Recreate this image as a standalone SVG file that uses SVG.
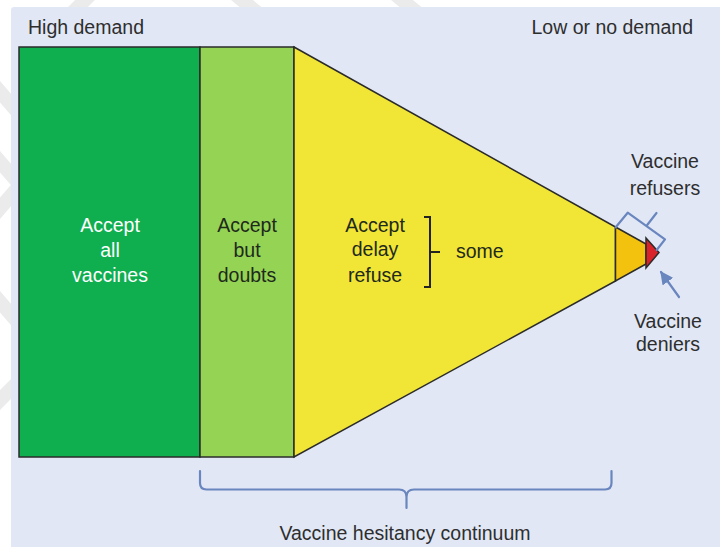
<svg xmlns="http://www.w3.org/2000/svg" width="720" height="547" viewBox="0 0 720 547">
  <defs>
    <style>
      .lbl { font-family: "Liberation Sans", Arial, sans-serif; font-size: 19.5px; fill: #2e2e2e; }
      .wht { fill: #ffffff; }
      .dk { fill: #1e2a1c; }
      .shape { stroke: #2b2b2b; stroke-width: 1.5; stroke-linejoin: miter; }
      .blue { fill: none; stroke: #6a86bf; stroke-width: 2.2; stroke-linecap: round; stroke-linejoin: round; }
      .blk { fill: none; stroke: #222222; stroke-width: 2; }
      .wm { stroke: #ebebeb; stroke-width: 14; fill: none; }
    </style>
    <marker id="arrow" viewBox="0 0 10 10" refX="9" refY="5" markerWidth="6" markerHeight="6" orient="auto" markerUnits="strokeWidth">
      <path d="M0,0 L10,5 L0,10 z" fill="#6a86bf"/>
    </marker>
  </defs>

  <rect x="0" y="0" width="720" height="547" fill="#ffffff"/>
  <g id="watermark">
    <path class="wm" d="M-10,80 L20,115 M-10,150 L20,185 M20,185 L-10,220 M-10,290 L20,325 M20,380 L-10,410 M230,-10 L260,15 M390,-10 L420,15 M95,-10 L70,15"/>
  </g>
  <rect id="panel" x="11" y="7" width="715" height="546" rx="3" fill="#e1e7f5"/>

  <g id="accept-all">
    <rect class="shape" x="19" y="47" width="181" height="410" fill="#0faf4f"/>
    <text class="lbl wht" text-anchor="middle"><tspan x="110" y="232">Accept</tspan><tspan x="110" y="256.5">all</tspan><tspan x="110" y="281.5">vaccines</tspan></text>
  </g>

  <g id="accept-doubts">
    <rect class="shape" x="200" y="47" width="94" height="410" fill="#95d354"/>
    <text class="lbl dk" text-anchor="middle"><tspan x="247" y="232">Accept</tspan><tspan x="247" y="256.5">but</tspan><tspan x="247" y="281.5">doubts</tspan></text>
  </g>

  <g id="accept-delay-refuse">
    <polygon class="shape" points="294,47 615.5,227 615.5,281 294,457" fill="#f1e535"/>
    <text class="lbl dk" text-anchor="middle"><tspan x="375" y="232">Accept</tspan><tspan x="375" y="256">delay</tspan><tspan x="375" y="281.5">refuse</tspan></text>
    <path class="blk" d="M424,217 H430 V287 H424 M430,252 H440"/>
    <text class="lbl dk" x="456" y="258">some</text>
  </g>

  <g id="refusers">
    <polygon class="shape" points="615.5,227 646,244 646,264 615.5,281" fill="#f3c20f"/>
  </g>

  <g id="deniers">
    <polygon class="shape" points="646,238 659,252.5 646,268" fill="#d8232a"/>
  </g>

  <g id="labels">
    <text class="lbl" x="28" y="34">High demand</text>
    <text class="lbl" x="693" y="34" text-anchor="end">Low or no demand</text>
    <text class="lbl" text-anchor="middle"><tspan x="665" y="168">Vaccine</tspan><tspan x="665" y="194.5">refusers</tspan></text>
    <text class="lbl" text-anchor="middle"><tspan x="668" y="328">Vaccine</tspan><tspan x="668" y="351">deniers</tspan></text>
    <text class="lbl" x="405" y="540" text-anchor="middle">Vaccine hesitancy continuum</text>
  </g>

  <g id="connectors">
    <path class="blue" d="M615.7,227.3 L627.7,212.7 L665,239.3 L656.7,250 M646.4,226 L656.5,213"/>
    <path class="blue" d="M679,297 L661,272" marker-end="url(#arrow)"/>
    <path class="blue" d="M200,471 V483 Q200,489.5 206.5,489.5 H399 Q406.5,489.5 406.5,497 V508 M406.5,497 Q406.5,489.5 414,489.5 H605 Q611.5,489.5 611.5,483 V471"/>
  </g>
</svg>
